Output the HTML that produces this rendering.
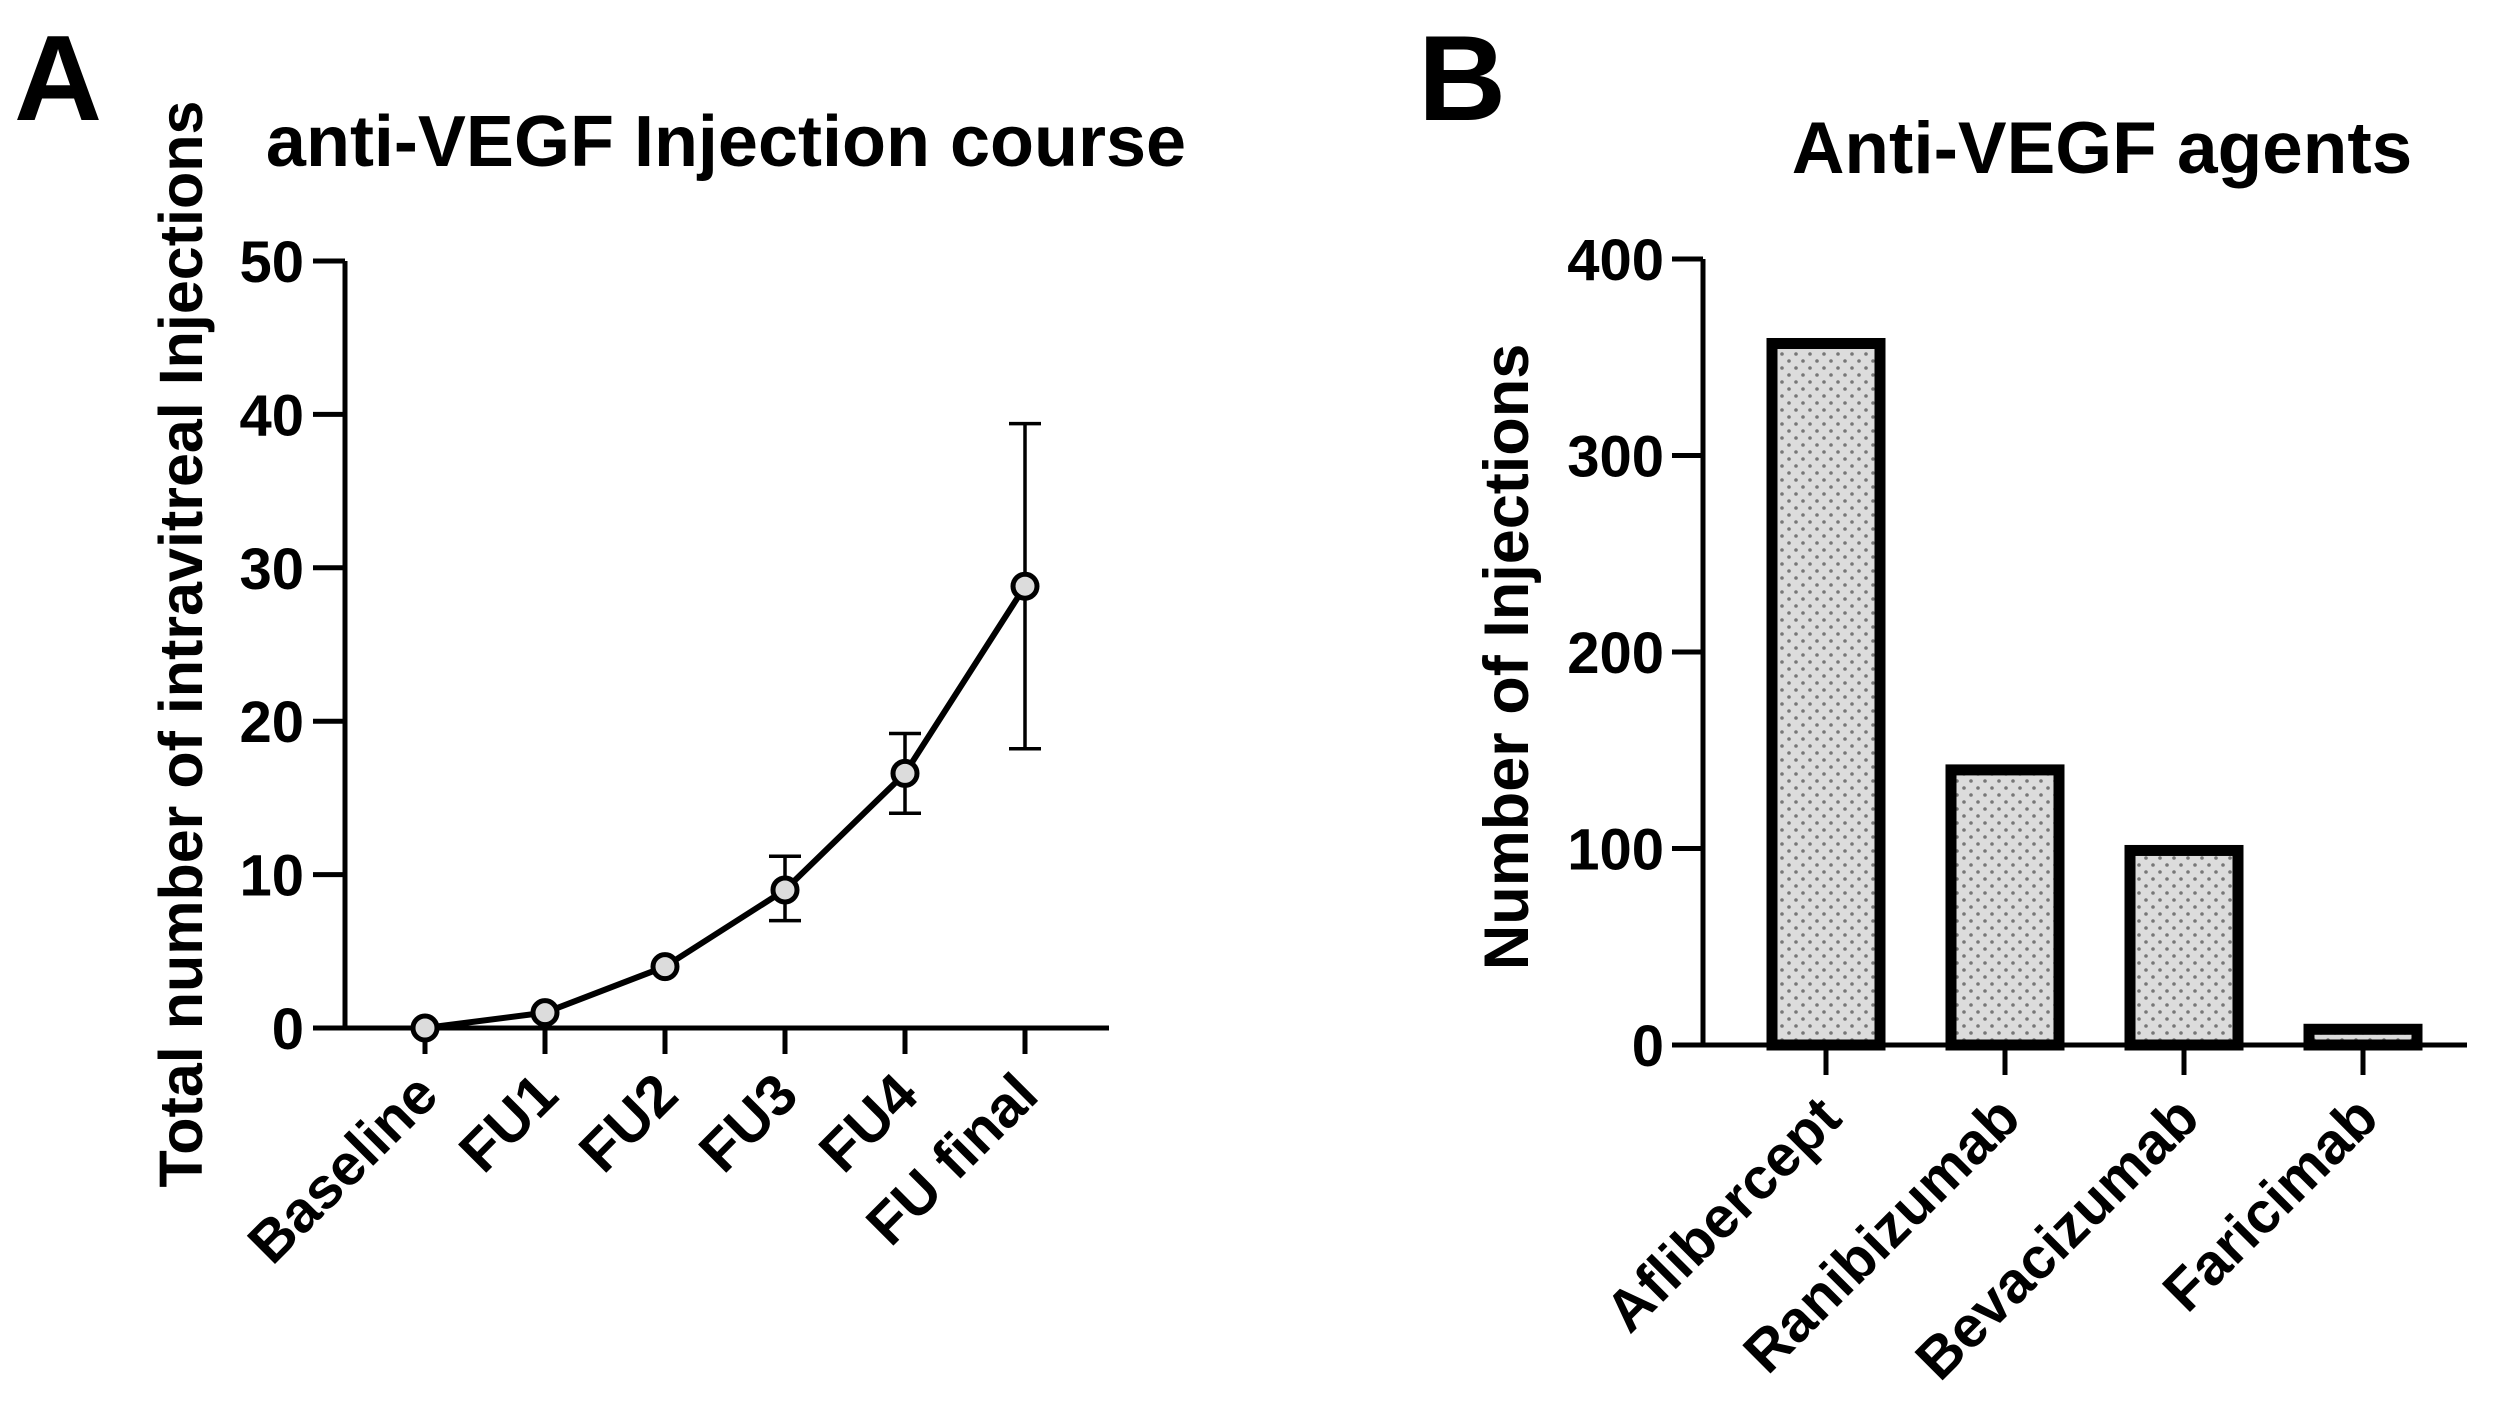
<!DOCTYPE html>
<html><head><meta charset="utf-8"><style>
html,body{margin:0;padding:0;background:#fff;}
svg{display:block;}
text{font-family:"Liberation Sans",Arial,sans-serif;font-weight:bold;fill:#000;}
</style></head><body>
<svg id="fig" width="2512" height="1410" viewBox="0 0 2512 1410" xmlns="http://www.w3.org/2000/svg">
<defs>
<pattern id="dots" width="14" height="14" patternUnits="userSpaceOnUse">
<rect width="14" height="14" fill="#dcdcdc"/>
<circle cx="4" cy="4" r="1.8" fill="#777"/>
<circle cx="11" cy="11" r="1.8" fill="#777"/>
</pattern>
</defs>
<text x="14" y="120" font-size="122">A</text>
<text x="1418" y="120" font-size="122">B</text>
<text x="726" y="166" font-size="72" text-anchor="middle">anti-VEGF Injection course</text>
<text x="2102" y="173" font-size="73" text-anchor="middle">Anti-VEGF agents</text>
<text transform="translate(202,644) rotate(-90)" font-size="61" text-anchor="middle">Total number of intravitreal Injections</text>
<text transform="translate(1528,657) rotate(-90)" font-size="63" text-anchor="middle">Number of Injections</text>
<g id="chartA"></g>
<g id="chartB"></g>
</svg>
<script>
const catsA = ["Baseline","FU1","FU2","FU3","FU4","FU final"];
const meanA = [0, 1, 4, 9, 16.6, 28.8];
const errLowA = [0, 0, 0, 7, 14, 18.2];
const errHighA = [0, 0, 0, 11.2, 19.2, 39.4];
const ticksA = [0, 10, 20, 30, 40, 50];

const catsB = ["Aflibercept","Ranibizumab","Bevacizumab","Faricimab"];
const valsB = [357, 140, 99, 8];
const ticksB = [0, 100, 200, 300, 400];

const NS = "http://www.w3.org/2000/svg";
function mk(parent, tag, attrs, txt){
  const e = document.createElementNS(NS, tag);
  for (const k in attrs) e.setAttribute(k, attrs[k]);
  if (txt !== undefined) e.textContent = txt;
  parent.appendChild(e);
  return e;
}

// Chart A
const gA = document.getElementById("chartA");
const axA = {x0:345, x1:1109, y0:1028, y1:261, vmax:50};
const yA = v => axA.y0 - (v/axA.vmax)*(axA.y0-axA.y1);
const xA = i => 425 + i*120;
let e;
e = mk(gA,"line",{x1:axA.x0,y1:axA.y1,x2:axA.x0,y2:axA.y0+2,stroke:"#000","stroke-width":5});


e = mk(gA,"line",{x1:313,y1:axA.y0,x2:axA.x1,y2:axA.y0,stroke:"#000","stroke-width":5});


ticksA.forEach(t=>{
  e = mk(gA,"line",{x1:313,y1:yA(t),x2:axA.x0,y2:yA(t),stroke:"#000","stroke-width":5});
  
  
  e = mk(gA,"text",{x:304,y:yA(t)+21,"font-size":58,"text-anchor":"end"},String(t));
  
  
});
catsA.forEach((c,i)=>{
  e = mk(gA,"line",{x1:xA(i),y1:axA.y0,x2:xA(i),y2:axA.y0+26,stroke:"#000","stroke-width":5});
  
  
  e = mk(gA,"text",{transform:`translate(${xA(i)+16},${axA.y0+70}) rotate(-45)`,"font-size":58,"text-anchor":"end"},c);
  
  
});
meanA.forEach((v,i)=>{
  if (errHighA[i] > errLowA[i]) {
    const x = xA(i);
    e = mk(gA,"path",{d:`M${x},${yA(errLowA[i])}V${yA(errHighA[i])}M${x-16},${yA(errLowA[i])}H${x+16}M${x-16},${yA(errHighA[i])}H${x+16}`,stroke:"#000","stroke-width":3.5,fill:"none"});
    
    
  }
});
e = mk(gA,"polyline",{points:meanA.map((v,i)=>xA(i)+","+yA(v)).join(" "),fill:"none",stroke:"#000","stroke-width":6,"stroke-linejoin":"round"});


meanA.forEach((v,i)=>{
  e = mk(gA,"circle",{cx:xA(i),cy:yA(v),r:12,fill:"#dcdcdc",stroke:"#000","stroke-width":5});
  
  
});

// Chart B
const gB = document.getElementById("chartB");
const axB = {x0:1703, x1:2467, y0:1045, y1:259, vmax:400};
const yB = v => axB.y0 - (v/axB.vmax)*(axB.y0-axB.y1);
const xB = i => 1826 + i*179;
const bw = 108;
catsB.forEach((c,i)=>{
  const top = yB(valsB[i]);
  e = mk(gB,"rect",{x:xB(i)-bw/2,y:top,width:bw,height:axB.y0-top,fill:"url(#dots)",stroke:"#000","stroke-width":11});
  
  
});
e = mk(gB,"line",{x1:axB.x0,y1:axB.y1,x2:axB.x0,y2:axB.y0+2,stroke:"#000","stroke-width":5});


e = mk(gB,"line",{x1:1672,y1:axB.y0,x2:axB.x1,y2:axB.y0,stroke:"#000","stroke-width":5});


ticksB.forEach(t=>{
  e = mk(gB,"line",{x1:1672,y1:yB(t),x2:axB.x0,y2:yB(t),stroke:"#000","stroke-width":5});
  
  
  e = mk(gB,"text",{x:1664,y:yB(t)+21,"font-size":58,"text-anchor":"end"},String(t));
  
  
});
catsB.forEach((c,i)=>{
  e = mk(gB,"line",{x1:xB(i),y1:axB.y0,x2:xB(i),y2:axB.y0+30,stroke:"#000","stroke-width":5});
  
  
  e = mk(gB,"text",{transform:`translate(${xB(i)+18},${axB.y0+76}) rotate(-45)`,"font-size":58,"text-anchor":"end"},c);
  
  
});
</script>
</body></html>
